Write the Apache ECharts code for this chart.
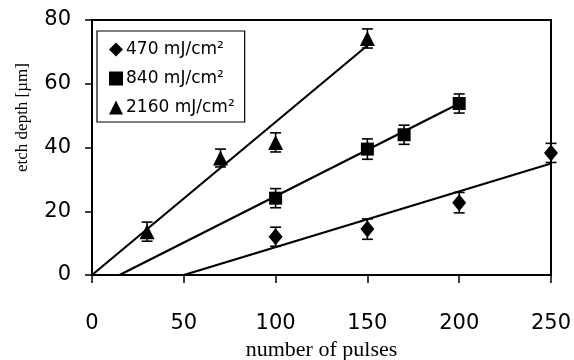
<!DOCTYPE html>
<html>
<head>
<meta charset="utf-8">
<script src="https://cdn.jsdelivr.net/npm/echarts@6/dist/echarts.min.js"></script>
<style>html,body{margin:0;padding:0;background:#fff}#c{width:574px;height:360px}</style>
</head>
<body>
<div id="c"></div>
<script>
// ---- data ----
const seriesNames = ['470 mJ/cm²', '840 mJ/cm²', '2160 mJ/cm²'];
const pulses470 = [100, 150, 200, 250];
const depth470 = [12.0, 14.4, 22.7, 38.3];
const err470 = [3.0, 3.2, 3.2, 3.0];
const pulses840 = [100, 150, 170, 200];
const depth840 = [24.1, 39.5, 44.0, 53.8];
const err840 = [3.0, 3.2, 3.0, 3.0];
const pulses2160 = [30, 70, 100, 150];
const depth2160 = [13.6, 36.7, 41.6, 74.2];
const err2160 = [3.0, 2.8, 3.0, 3.0];
// fitted trend lines: [start pulses, start depth], [end pulses, end depth]
const fit470 = [[50, 0], [250, 35]];
const fit840 = [[15, 0], [200, 53.8]];
const fit2160 = [[0, 0], [150, 72]];
const xTicks = { min: 0, max: 250, interval: 50 };
const yTicks = { min: 0, max: 80, interval: 20 };

const zip = (xs, ys) => xs.map((x, i) => [x, ys[i]]);
const errData = (xs, ys, es) => xs.map((x, i) => [x, ys[i] - es[i], ys[i] + es[i]]);

function errRender(params, api) {
  const x = api.value(0);
  const lo = api.coord([x, api.value(1)]);
  const hi = api.coord([x, api.value(2)]);
  const hw = 5.5;
  const st = { stroke: '#000', lineWidth: 1.6 };
  return {
    type: 'group',
    children: [
      { type: 'line', shape: { x1: lo[0], y1: lo[1], x2: hi[0], y2: hi[1] }, style: st },
      { type: 'line', shape: { x1: lo[0] - hw, y1: lo[1], x2: lo[0] + hw, y2: lo[1] }, style: st },
      { type: 'line', shape: { x1: hi[0] - hw, y1: hi[1], x2: hi[0] + hw, y2: hi[1] }, style: st }
    ]
  };
}

function fitLine(d) {
  return {
    type: 'line', data: d, showSymbol: false, silent: true, z: 2,
    lineStyle: { color: '#000', width: 2.2 }
  };
}
function errSeries(d) {
  return { type: 'custom', renderItem: errRender, data: d, z: 3, silent: true };
}

const chart = echarts.init(document.getElementById('c'));
chart.setOption({
  animation: false,
  backgroundColor: '#fff',
  grid: { left: 92, right: 23, top: 20, bottom: 85, outerBoundsMode: 'none', containLabel: false, show: true, borderColor: '#000', borderWidth: 2, backgroundColor: 'transparent' },
  legend: {
    data: seriesNames,
    orient: 'vertical',
    left: 97, top: 31,
    padding: [10, 10, 6, 12],
    itemWidth: 14, itemHeight: 14, itemGap: 12,
    borderColor: '#000', borderWidth: 1.2,
    backgroundColor: '#fff',
    textStyle: { fontFamily: 'DejaVu Sans', fontSize: 17, color: '#000', padding: [0, 0, 0, -2] }
  },
  xAxis: {
    type: 'value', min: xTicks.min, max: xTicks.max, interval: xTicks.interval,
    name: 'number of pulses', nameLocation: 'middle', nameGap: 62,
    nameTextStyle: { fontFamily: 'Liberation Serif', fontSize: 22, color: '#000' },
    axisLine: { onZero: false, lineStyle: { color: '#000', width: 2 } },
    axisTick: { length: 8, lineStyle: { color: '#000', width: 1.5 } },
    axisLabel: { margin: 38, fontFamily: 'DejaVu Sans', fontSize: 21, color: '#000' },
    splitLine: { show: false }
  },
  yAxis: {
    type: 'value', min: yTicks.min, max: yTicks.max, interval: yTicks.interval,
    name: 'etch depth [µm]', nameLocation: 'middle', nameGap: 61,
    nameTextStyle: { fontFamily: 'Liberation Serif', fontSize: 17, color: '#000', padding: [0, 0, 0, 60] },
    axisLine: { onZero: false, lineStyle: { color: '#000', width: 2 } },
    axisTick: { length: 7, lineStyle: { color: '#000', width: 1.5 } },
    axisLabel: { margin: 21, fontFamily: 'DejaVu Sans', fontSize: 21, color: '#000' },
    splitLine: { show: false }
  },
  series: [
    fitLine(fit470), fitLine(fit840), fitLine(fit2160),
    errSeries(errData(pulses470, depth470, err470)),
    errSeries(errData(pulses840, depth840, err840)),
    errSeries(errData(pulses2160, depth2160, err2160)),
    { name: seriesNames[0], type: 'scatter', symbol: 'diamond', symbolSize: [14, 17], data: zip(pulses470, depth470), itemStyle: { color: '#000', opacity: 1 }, z: 4 },
    { name: seriesNames[1], type: 'scatter', symbol: 'rect', symbolSize: 13, data: zip(pulses840, depth840), itemStyle: { color: '#000', opacity: 1 }, z: 4 },
    { name: seriesNames[2], type: 'scatter', symbol: 'triangle', symbolSize: [15, 15], data: zip(pulses2160, depth2160), itemStyle: { color: '#000', opacity: 1 }, z: 4 }
  ]
});
</script>
</body>
</html>
